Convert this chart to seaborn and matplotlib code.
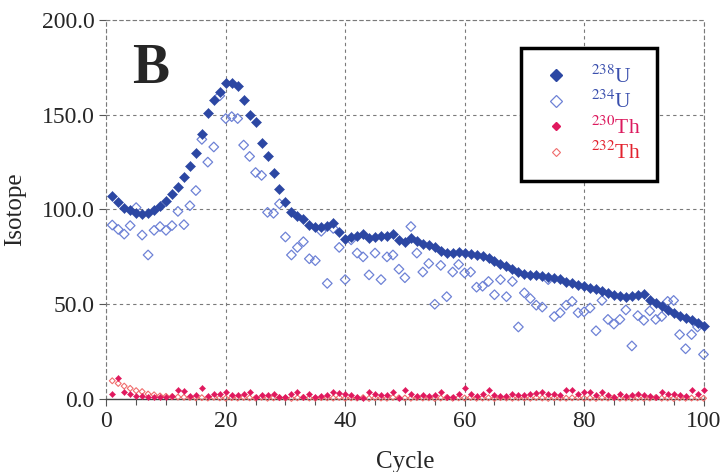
import numpy as np
import pandas as pd
import seaborn as sns
import matplotlib.pyplot as plt
from matplotlib.lines import Line2D
from matplotlib.ticker import MultipleLocator, FormatStrFormatter

sns.set_style("white")
plt.rcParams['font.family'] = ['Liberation Serif', 'STIXGeneral', 'DejaVu Serif']
plt.rcParams['mathtext.fontset'] = 'stix'

# values, cycles 1..100
cycles = list(range(1, 101))

u238 = [107, 104, 101, 99.5, 98, 97.5, 98, 99.5, 102, 104.5,
        108, 112, 117, 123, 130, 140, 151, 158, 162, 167,
        167, 165, 158, 150, 146, 135, 128, 119, 111, 104,
        98.5, 96.5, 95, 92, 91, 90.5, 91.5, 93, 88, 84.5,
        85.5, 86, 87, 85, 85.5, 86, 86, 87, 84, 83,
        85, 83.5, 82, 81, 80, 78, 77, 77, 77.5, 77,
        76.5, 76, 75.5, 74.5, 73, 71.5, 70, 68.5, 67, 66,
        65.5, 65.5, 65, 64.5, 64, 63.5, 62, 61, 60, 59.5,
        58.5, 58, 57, 56, 55, 54.5, 54, 54.5, 55, 55.5,
        52.5, 50.5, 49, 47, 45.5, 44, 43, 41.5, 40, 38.5]

u234 = [91.8, 89.5, 87, 91.5, 101, 86.5, 76, 89, 91, 89,
        91.5, 99, 92, 102, 110, 137, 125, 133, 160, 148,
        149, 148, 134, 128, 119.5, 118, 98.5, 98, 103, 85.5,
        76, 80, 83, 74, 73, 88.5, 61, 90, 80, 63,
        84, 77, 75, 65.5, 77, 63, 75, 76, 68.5, 64,
        91, 77, 67, 71.5, 50, 70.5, 54, 67, 71, 66.5,
        67, 59, 59.5, 62, 55, 63, 54, 62, 38, 56,
        53, 49.5, 48.5, 63, 43.5, 45.5, 49.5, 51.5, 45.5, 46,
        48, 36, 52, 42, 39.5, 42, 47, 28, 44, 41.5,
        46.5, 42, 43.5, 51.5, 52, 34, 26.5, 34, 38, 23.5]

th230 = [2.8, 11.0, 3.5, 2.5, 1.5, 1.8, 1.0, 0.8, 1.2, 1.0,
         1.5, 4.7, 4.4, 1.6, 2.1, 5.6, 1.6, 2.6, 2.6, 3.9,
         2.1, 2.1, 2.6, 3.9, 1.2, 2.1, 2.1, 2.6, 1.2, 1.2,
         2.6, 3.9, 1.2, 2.6, 1.2, 1.6, 2.1, 3.9, 3.0, 2.6,
         2.1, 1.2, 0.4, 3.9, 2.6, 2.1, 2.1, 3.9, 0.7, 4.7,
         2.6, 1.6, 2.1, 1.6, 2.1, 3.9, 1.2, 1.2, 2.6, 5.6,
         2.6, 1.6, 2.6, 4.7, 2.1, 1.6, 1.6, 2.6, 2.1, 2.1,
         2.6, 3.0, 3.9, 2.6, 2.6, 2.1, 4.7, 4.7, 2.6, 3.9,
         3.9, 2.1, 3.9, 2.1, 1.2, 2.6, 1.6, 2.1, 2.6, 2.1,
         1.6, 1.2, 3.9, 2.6, 2.6, 2.1, 1.6, 5.0, 2.6, 4.5]

th232 = [9.6, 8.2, 6.8, 5.6, 4.4, 3.9, 2.6, 2.2, 1.6, 1.4,
         1.2, 1.0, 0.9, 0.8, 0.6, 0.7, 0.5, 0.9, 0.6, 0.4,
         0.7, 0.5, 0.8, 0.6, 0.5, 0.9, 0.4, 0.6, 0.7, 0.5,
         0.3, 0.6, 0.8, 0.5, 0.4, 0.7, 0.6, 0.5, 0.8, 0.4,
         0.6, 0.5, 0.7, 0.3, 0.6, 0.5, 0.4, 0.8, 0.6, 0.5,
         0.4, 0.7, 0.5, 0.6, 0.3, 0.5, 0.7, 0.4, 0.6, 0.5,
         0.8, 0.4, 0.5, 0.6, 0.3, 0.7, 0.5, 0.4, 0.6, 0.5,
         0.4, 0.7, 0.5, 0.3, 0.6, 0.5, 0.4, 0.6, 0.8, 0.4,
         0.5, 0.3, 0.6, 0.5, 0.7, 0.4, 0.5, 0.3, 0.6, 0.4,
         0.5, 0.7, 0.4, 0.5, 0.3, 0.6, 0.4, 0.5, 0.6, 0.4]

labels = [r'$^{238}$U', r'$^{234}$U', r'$^{230}$Th', r'$^{232}$Th']
blue, lblue = '#2c47a3', '#6e82d6'
crim, salmon = '#e0195e', '#f06c6c'

df = pd.DataFrame({'Cycle': cycles, 'U238': u238, 'U234': u234,
                   'Th230': th230, 'Th232': th232})

fig = plt.figure(figsize=(7.24, 4.72), dpi=100)
ax = fig.add_axes([0.1468, 0.1547, 0.8249, 0.8029])

sns.scatterplot(data=df, x='Cycle', y='U234', marker='D', s=24, color=lblue,
                facecolor='none', edgecolor=lblue, linewidth=0.9, ax=ax, clip_on=False, zorder=3)
sns.scatterplot(data=df, x='Cycle', y='U238', marker='D', s=26, color=blue,
                edgecolor=blue, linewidth=0.4, ax=ax, clip_on=False, zorder=4)
sns.scatterplot(data=df, x='Cycle', y='Th232', marker='D', s=9, color=salmon,
                facecolor='none', edgecolor=salmon, linewidth=0.8, ax=ax, clip_on=False, zorder=3)
sns.scatterplot(data=df, x='Cycle', y='Th230', marker='D', s=10, color=crim,
                edgecolor=crim, linewidth=0.3, ax=ax, clip_on=False, zorder=4)

ax.set_xlim(0, 100)
ax.set_ylim(0, 200)
ax.xaxis.set_major_locator(MultipleLocator(20))
ax.xaxis.set_minor_locator(MultipleLocator(5))
ax.yaxis.set_major_locator(MultipleLocator(50))
ax.yaxis.set_major_formatter(FormatStrFormatter('%.1f'))
ax.tick_params(axis='both', which='major', direction='out', length=5, width=0.8,
               labelsize=17, color='#555555', left=True, bottom=True)
ax.tick_params(axis='x', which='minor', direction='out', length=4, width=0.8,
               color='#555555', bottom=True)

ax.grid(True, which='major', color='#7a7a7a', linestyle=(0, (3, 3)), linewidth=0.8)
for side in ['left', 'top', 'right']:
    ax.spines[side].set_linestyle((0, (3, 3)))
    ax.spines[side].set_color('#7a7a7a')
    ax.spines[side].set_linewidth(0.8)
ax.spines['bottom'].set_color('#444444')
ax.spines['bottom'].set_linewidth(1.0)

ax.set_xlabel('Cycle', fontsize=18, labelpad=14)
ax.set_ylabel('Isotope', fontsize=18, labelpad=11)

ax.text(0.043, 0.834, 'B', transform=ax.transAxes, fontsize=40,
        fontweight='bold', va='baseline', ha='left')

handles = [
    Line2D([], [], marker='D', ls='none', ms=6.5, mfc=blue, mec=blue),
    Line2D([], [], marker='D', ls='none', ms=6.0, mfc='none', mec=lblue, mew=0.9),
    Line2D([], [], marker='D', ls='none', ms=4.0, mfc=crim, mec=crim),
    Line2D([], [], marker='D', ls='none', ms=3.8, mfc='none', mec=salmon, mew=0.8),
]
leg = ax.legend(handles, labels, loc='upper left', bbox_to_anchor=(0.694, 0.926),
                fontsize=15.5, frameon=True, fancybox=False, framealpha=1,
                edgecolor='black', handlelength=1.7, handletextpad=0.75,
                borderpad=0.8, labelspacing=0.15, borderaxespad=0,
                labelcolor=['#3a4fad', '#3a4fad', '#dc1a5e', '#e3222e'])
leg.get_frame().set_linewidth(2.5)

fig.savefig('out.png', dpi=100)
